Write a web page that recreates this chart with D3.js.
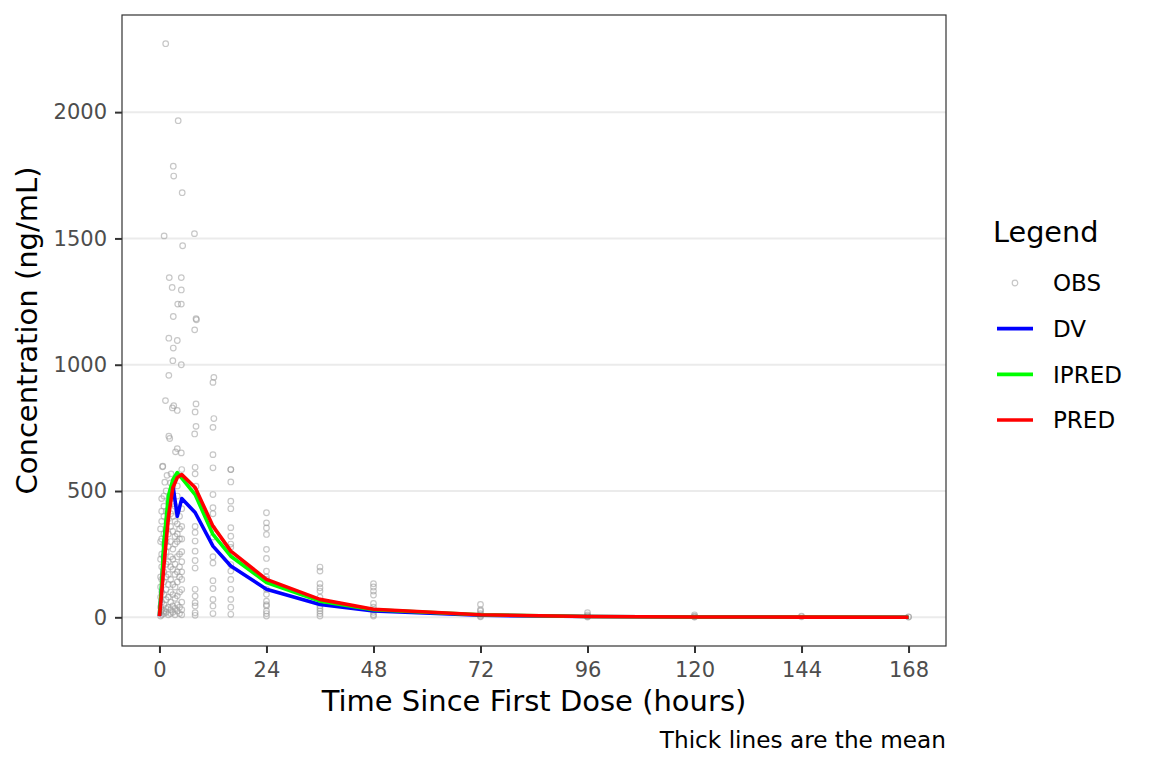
<!DOCTYPE html>
<html>
<head>
<meta charset="utf-8">
<script src="https://cdn.jsdelivr.net/npm/d3@7"></script>
<style>
  body { margin: 0; background: #fff; }
  svg { font-family: "DejaVu Sans", sans-serif; }
</style>
</head>
<body>
<svg id="chart" width="1152" height="768"></svg>
<script>
// Observed concentrations (time in hours, conc in ng/mL), grouped by sampling window
const obsTime = [
  // 0-6 h, upper values
  1.4, 4.2, 3.1, 3.2, 5.1, 1.05, 5.2, 2.2, 4.9, 2.85, 4.9, 4.1, 4.9, 3.1, 2.1, 4.0, 3.1, 3.0, 4.9, 2.1,
  1.35, 3.2, 2.9, 4.0, 2.1, 2.3, 4.0, 4.9, 3.6, 0.75, 0.7, 2.6, 1.7, 5.0, 1.2, 2.5,
  // 0-6 h, dense lower values
  0.25, 0.25, 0.25, 0.25, 0.25, 0.25, 0.25, 0.25, 0.25,
  0.5, 0.5, 0.5, 0.5, 0.5, 0.5, 0.5, 0.5, 0.5, 0.5, 0.5,
  1, 1, 1, 1, 1, 1, 1, 1, 1, 1, 1, 1,
  1.5, 1.5, 1.5, 1.5, 1.5, 1.5, 1.5, 1.5, 1.5, 1.5, 1.5,
  2, 2, 2, 2, 2, 2, 2, 2, 2, 2,
  2.5, 2.5, 2.5, 2.5, 2.5, 2.5, 2.5, 2.5, 2.5, 2.5, 2.5,
  3, 3, 3, 3, 3, 3, 3, 3, 3, 3, 3,
  3.5, 3.5, 3.5, 3.5, 3.5, 3.5, 3.5, 3.5, 3.5, 3.5,
  4, 4, 4, 4, 4, 4, 4, 4, 4, 4, 4, 4,
  4.5, 4.5, 4.5, 4.5, 4.5, 4.5, 4.5, 4.5, 4.5,
  5, 5, 5, 5, 5, 5, 5, 5, 5, 5, 5,
  // 8 h
  7.85, 8.2, 8.3, 7.9, 8.2, 8, 8.2, 7.9, 8, 8, 8.2, 8, 8, 8, 8, 8, 8, 8, 8, 8, 8, 8, 8, 8,
  // 12 h
  12.2, 12, 12.2, 12, 12, 12, 12, 12, 12, 12, 12, 12, 12, 12, 12, 12, 12, 12,
  // 16 h
  16, 16, 16, 16, 16, 16, 16, 16, 16, 16, 16, 16, 16, 16, 16, 16,
  // 24 h
  24, 24, 24, 24, 24, 24, 24, 24, 24, 24, 24, 24, 24, 24, 24, 24, 24,
  // 36 h
  36, 36, 36, 36, 36, 36, 36, 36, 36, 36, 36, 36,
  // 48 h
  48, 48, 48, 48, 48, 48, 48, 48, 48, 48,
  // 72 h
  72, 72, 72, 72, 72, 72, 72,
  // 96 h
  96, 96, 96, 96, 96,
  // 120 h
  120, 120, 120, 120,
  // 144 h
  144, 144,
  // 168 h
  168, 168
];
const obsConc = [
  2271, 1966, 1786, 1747, 1681, 1510, 1471, 1345, 1345, 1306, 1296, 1240, 1240, 1191, 1105, 1096, 1066, 1016, 1000, 958,
  858, 838, 829, 819, 717, 708, 668, 651, 655, 598, 596, 568, 562, 585, 535, 532,
  5, 20, 40, 80, 120, 160, 230, 300, 350,
  10, 30, 60, 100, 150, 200, 250, 310, 380, 420, 470,
  15, 25, 50, 90, 140, 180, 240, 290, 330, 400, 440, 480,
  20, 35, 70, 110, 160, 210, 260, 300, 350, 420, 500,
  10, 40, 80, 130, 170, 220, 280, 330, 390, 460,
  15, 30, 60, 100, 150, 200, 240, 300, 360, 410, 470,
  20, 45, 90, 130, 190, 230, 270, 340, 400, 450, 520,
  10, 35, 75, 120, 170, 210, 290, 320, 380, 440,
  25, 50, 85, 140, 180, 240, 300, 330, 370, 420, 480, 520,
  15, 40, 100, 160, 200, 250, 310, 350, 400,
  10, 30, 60, 110, 150, 180, 220, 260, 310, 360, 430,
  1519, 1182, 1178, 1138, 845, 813, 756, 726, 594, 568, 519, 500, 360, 336, 302, 262, 225, 195, 111, 84, 58, 45, 18, 8,
  950, 930, 787, 752, 644, 592, 486, 434, 410, 352, 318, 240, 215, 145, 114, 71, 45, 15,
  585, 585, 536, 460, 430, 355, 321, 290, 277, 209, 183, 150, 111, 71, 40, 12,
  414, 374, 354, 328, 269, 233, 183, 160, 150, 111, 91, 64, 50, 45, 25, 15, 5,
  199, 183, 133, 117, 104, 80, 60, 45, 35, 25, 15, 5,
  133, 120, 104, 88, 55, 40, 30, 20, 10, 5,
  51, 30, 25, 15, 10, 5, 2,
  18, 10, 6, 3, 1,
  10, 5, 2, 1,
  5, 2,
  2, 1
];

// Mean profiles
const meanTime = [0, 0.5, 1, 2, 3, 4, 5, 8, 12, 16, 24, 36, 48, 72, 96, 120, 144, 168];
const meanDV    = [5, 120, 280, 450, 525, 400, 470, 415, 282, 203, 111, 51, 25, 8, 3, 1, 0.5, 0.3];
const meanIPRED = [8, 140, 300, 480, 545, 573, 551, 486, 328, 242, 138, 64, 30, 10, 3, 1.5, 0.7, 0.3];
const meanPRED  = [5, 100, 205, 395, 513, 553, 565, 514, 361, 262, 150, 71, 32, 10, 3, 1.5, 0.8, 0.4];

const seriesNames = ['DV', 'IPRED', 'PRED'];
const seriesColors = ['#0000ff', '#00ff00', '#ff0000'];
const xTicks = [0, 24, 48, 72, 96, 120, 144, 168];
const yTicks = [0, 500, 1000, 1500, 2000];

const svg = d3.select('#chart');
const panel = { left: 122, right: 946, top: 15, bottom: 646 };

// ggplot-style 5% expansion
const xMax = 168, yMax = d3.max(obsConc);
const xScale = d3.scaleLinear()
  .domain([-xMax * 0.05, xMax * 1.05])
  .range([panel.left, panel.right]);
const yScale = d3.scaleLinear()
  .domain([-yMax * 0.05, yMax * 1.05])
  .range([panel.bottom, panel.top]);

// Grid lines
svg.append('g')
  .selectAll('line')
  .data(yTicks)
  .enter()
  .append('line')
  .attr('x1', panel.left)
  .attr('x2', panel.right)
  .attr('y1', d => yScale(d))
  .attr('y2', d => yScale(d))
  .attr('stroke', '#ebebeb')
  .attr('stroke-width', 2);

// Observed points
const obs = obsTime.map((t, i) => ({ t: t, c: obsConc[i] }));
svg.append('g')
  .selectAll('circle')
  .data(obs)
  .enter()
  .append('circle')
  .attr('cx', d => xScale(d.t))
  .attr('cy', d => yScale(d.c))
  .attr('r', 2.8)
  .attr('fill', 'none')
  .attr('stroke', '#999')
  .attr('stroke-opacity', 0.55)
  .attr('stroke-width', 1.2);

// Mean lines
const line = d3.line()
  .x(d => xScale(d.t))
  .y(d => yScale(d.c));

[meanDV, meanIPRED, meanPRED].forEach((vals, k) => {
  svg.append('path')
    .datum(meanTime.map((t, i) => ({ t: t, c: vals[i] })))
    .attr('fill', 'none')
    .attr('stroke', seriesColors[k])
    .attr('stroke-width', 3.6)
    .attr('stroke-linejoin', 'round')
    .attr('d', line);
});

// Panel border
svg.append('rect')
  .attr('x', panel.left)
  .attr('y', panel.top)
  .attr('width', panel.right - panel.left)
  .attr('height', panel.bottom - panel.top)
  .attr('fill', 'none')
  .attr('stroke', '#333')
  .attr('stroke-width', 1.2);

// Axes
const xAxis = svg.append('g')
  .attr('transform', 'translate(0,' + panel.bottom + ')')
  .call(d3.axisBottom(xScale).tickValues(xTicks).tickFormat(d3.format('d')).tickSize(7).tickPadding(9.5));
const yAxis = svg.append('g')
  .attr('transform', 'translate(' + panel.left + ',0)')
  .call(d3.axisLeft(yScale).tickValues(yTicks).tickFormat(d3.format('d')).tickSize(7).tickPadding(8));

[xAxis, yAxis].forEach(ax => {
  ax.select('.domain').remove();
  ax.selectAll('line').attr('stroke', '#333').attr('stroke-width', 2);
  ax.selectAll('text')
    .attr('fill', '#4d4d4d')
    .attr('font-size', '21px')
    .attr('font-family', '"DejaVu Sans", sans-serif');
});

// Axis titles
svg.append('text')
  .attr('x', (panel.left + panel.right) / 2)
  .attr('y', 711)
  .attr('text-anchor', 'middle')
  .attr('font-size', '29px')
  .attr('fill', '#000')
  .text('Time Since First Dose (hours)');

svg.append('text')
  .attr('transform', 'rotate(-90)')
  .attr('x', -(panel.top + panel.bottom) / 2)
  .attr('y', 37)
  .attr('text-anchor', 'middle')
  .attr('font-size', '29px')
  .attr('fill', '#000')
  .text('Concentration (ng/mL)');

// Caption
svg.append('text')
  .attr('x', panel.right)
  .attr('y', 748)
  .attr('text-anchor', 'end')
  .attr('font-size', '23.2px')
  .attr('fill', '#000')
  .text('Thick lines are the mean');

// Legend
const legend = svg.append('g');
legend.append('text')
  .attr('x', 993)
  .attr('y', 242)
  .attr('font-size', '28.7px')
  .attr('fill', '#000')
  .text('Legend');

const legendRows = ['OBS'].concat(seriesNames);
const legendY = d3.scalePoint().domain(legendRows).range([283, 420]);

legend.append('circle')
  .attr('cx', 1015)
  .attr('cy', legendY('OBS'))
  .attr('r', 2.8)
  .attr('fill', 'none')
  .attr('stroke', '#999')
  .attr('stroke-opacity', 0.55)
  .attr('stroke-width', 1.2);

seriesNames.forEach((name, k) => {
  legend.append('line')
    .attr('x1', 997)
    .attr('x2', 1033)
    .attr('y1', legendY(name))
    .attr('y2', legendY(name))
    .attr('stroke', seriesColors[k])
    .attr('stroke-width', 3.6);
});

legend.selectAll('text.key')
  .data(legendRows)
  .enter()
  .append('text')
  .attr('class', 'key')
  .attr('x', 1053)
  .attr('y', d => legendY(d))
  .attr('dy', '0.36em')
  .attr('font-size', '23px')
  .attr('fill', '#000')
  .text(d => d);
</script>
</body>
</html>
